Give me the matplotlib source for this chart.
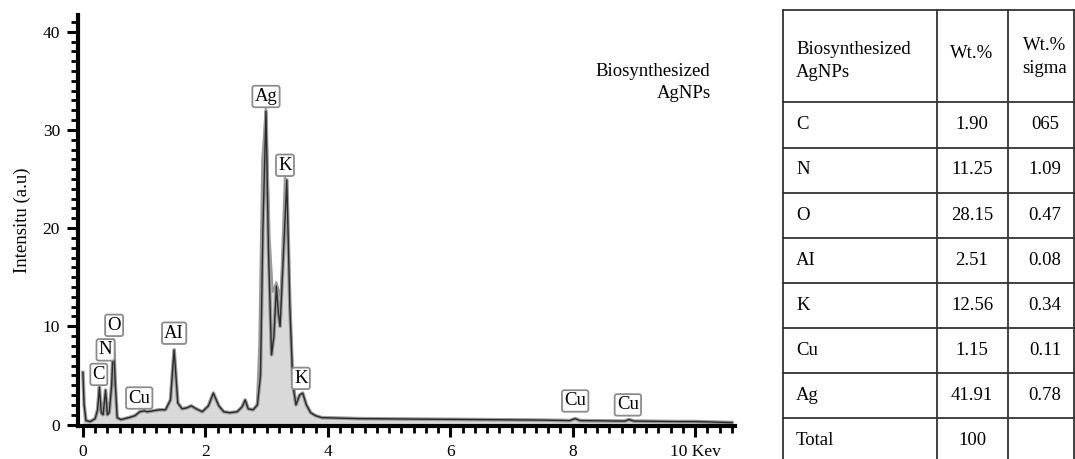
import numpy as np
import matplotlib
matplotlib.use("Agg")
import matplotlib.pyplot as plt
from matplotlib.ticker import MultipleLocator

plt.rcParams['font.family'] = ['Liberation Serif', 'DejaVu Serif']

# EDX spectrum (keV, intensity)
line_kev = [0.00, 0.02, 0.05, 0.12, 0.20, 0.24, 0.27, 0.30, 0.33, 0.37, 0.40, 0.43,
            0.47, 0.50, 0.53, 0.56, 0.62, 0.75, 0.85, 0.93, 1.00, 1.05, 1.15, 1.25,
            1.35, 1.43, 1.49, 1.55, 1.62, 1.70, 1.77, 1.85, 1.95, 2.05, 2.13, 2.22,
            2.30, 2.40, 2.52, 2.60, 2.65, 2.70, 2.78, 2.85, 2.90, 2.94, 2.99, 3.03,
            3.08, 3.12, 3.16, 3.19, 3.22, 3.28, 3.33, 3.38, 3.43, 3.48, 3.54, 3.59,
            3.65, 3.72, 3.80, 3.90, 4.50, 5.50, 6.50, 7.50, 7.95, 8.04, 8.12, 8.85,
            8.92, 9.00, 9.70, 10.00, 10.60]
line_int = [5.3, 2.0, 0.4, 0.3, 0.6, 1.5, 3.8, 1.2, 1.0, 3.5, 1.0, 1.2,
            4.0, 8.6, 4.0, 0.7, 0.5, 0.7, 0.9, 1.3, 1.4, 1.3, 1.4, 1.5,
            1.5, 2.5, 7.6, 2.2, 1.6, 1.7, 1.9, 1.6, 1.3, 1.9, 3.2, 1.9,
            1.3, 1.2, 1.3, 1.8, 2.5, 1.6, 1.5, 2.0, 5.0, 20.0, 31.9, 18.0,
            7.1, 9.0, 14.1, 11.5, 10.0, 18.0, 24.9, 12.0, 4.0, 2.0, 3.0, 3.2,
            2.0, 1.2, 0.9, 0.7, 0.6, 0.55, 0.5, 0.45, 0.4, 0.6, 0.4, 0.35,
            0.5, 0.35, 0.3, 0.3, 0.2]

# grey envelope around the Ag / K peaks
env_kev = [2.84, 2.88, 2.93, 2.99, 3.05, 3.10, 3.16, 3.23, 3.30, 3.36, 3.42, 3.48]
env_int = [1.8, 8.0, 27.0, 32.4, 19.0, 13.5, 14.5, 13.0, 25.5, 17.0, 5.0, 2.2]

# peak labels (text, keV, intensity of box)
peak_names = ['C', 'N', 'O', 'Cu', 'AI', 'Ag', 'K', 'K', 'Cu', 'Cu']
peak_kev = [0.26, 0.37, 0.51, 0.92, 1.49, 2.99, 3.30, 3.56, 8.04, 8.90]
peak_int = [5.1, 7.6, 10.1, 2.7, 9.3, 33.4, 26.4, 4.7, 2.4, 2.0]

# table
tab_header = ['Biosynthesized\nAgNPs', 'Wt.%', 'Wt.%\nsigma']
tab_elements = ['C', 'N', 'O', 'AI', 'K', 'Cu', 'Ag', 'Total']
tab_wt = ['1.90', '11.25', '28.15', '2.51', '12.56', '1.15', '41.91', '100']
tab_sigma = ['065', '1.09', '0.47', '0.08', '0.34', '0.11', '0.78', '']

fs = 13.5

fig = plt.figure(figsize=(10.75, 4.59), dpi=100)
ax = fig.add_axes([78/1075, 33/459, (735-78)/1075, (444-33)/459])

ax.fill_between(env_kev, env_int, color='#d9d9d9', lw=0)
ax.fill_between(line_kev, line_int, color='#d9d9d9', lw=0)
ax.plot(env_kev, env_int, color='#9a9a9a', lw=1.5)
ax.plot(line_kev, line_int, color='#9a9a9a', lw=2.6)
ax.plot(line_kev, line_int, color='#2a2a2a', lw=1.0)

for name, kx, ky in zip(peak_names, peak_kev, peak_int):
    ax.text(kx, ky, name, ha='center', va='center', fontsize=fs,
            bbox=dict(boxstyle='round,pad=0.12', fc='white', ec='#8c8c8c', lw=1.3))

ax.text(10.25, 34.8, 'Biosynthesized\nAgNPs', ha='right', va='center', fontsize=fs,
        linespacing=1.4)

ax.set_xlim(-0.08, 10.65)
ax.set_ylim(-0.15, 41.7)
ax.set_xticks([0, 2, 4, 6, 8, 10])
ax.set_xticklabels(['0', '2', '4', '6', '8', '10 Kev'])
ax.set_yticks([0, 10, 20, 30, 40])
ax.xaxis.set_minor_locator(MultipleLocator(0.2))
ax.yaxis.set_minor_locator(MultipleLocator(1))
ax.tick_params(which='major', direction='out', length=8, width=2.2, labelsize=12.5, pad=5)
ax.tick_params(which='minor', direction='out', length=5, width=2.0)
for side in ['top', 'right']:
    ax.spines[side].set_visible(False)
for side in ['left', 'bottom']:
    ax.spines[side].set_linewidth(3)
ax.set_ylabel('Intensitu (a.u)', fontsize=fs, labelpad=8)

# table drawn in pixel coordinates
tx = fig.add_axes([0, 0, 1, 1])
tx.set_xlim(0, 1075)
tx.set_ylim(459, 0)
tx.axis('off')
col_x = [783, 937, 1008, 1074]
row_y = [10, 102, 147.5, 192.5, 238, 283, 328, 373, 418, 470]
for cx in col_x:
    tx.plot([cx, cx], [row_y[0], 459], color='#333333', lw=1.3)
for ry in row_y[:-1]:
    tx.plot([col_x[0], col_x[-1]], [ry, ry], color='#333333', lw=1.3)

hy = (row_y[0] + row_y[1]) / 2
tx.text(796, hy + 5, tab_header[0], ha='left', va='center', fontsize=fs, linespacing=1.4)
tx.text(972, hy - 3, tab_header[1], ha='center', va='center', fontsize=fs)
tx.text(1045, hy + 1, tab_header[2], ha='center', va='center', fontsize=fs, linespacing=1.4)
for i, (el, wt, sg) in enumerate(zip(tab_elements, tab_wt, tab_sigma)):
    cy = row_y[i + 1] + 22.5
    tx.text(796, cy, el, ha='left', va='center', fontsize=fs)
    tx.text(972, cy, wt, ha='center', va='center', fontsize=fs)
    tx.text(1045, cy, sg, ha='center', va='center', fontsize=fs)

fig.savefig('out.png', dpi=100)
